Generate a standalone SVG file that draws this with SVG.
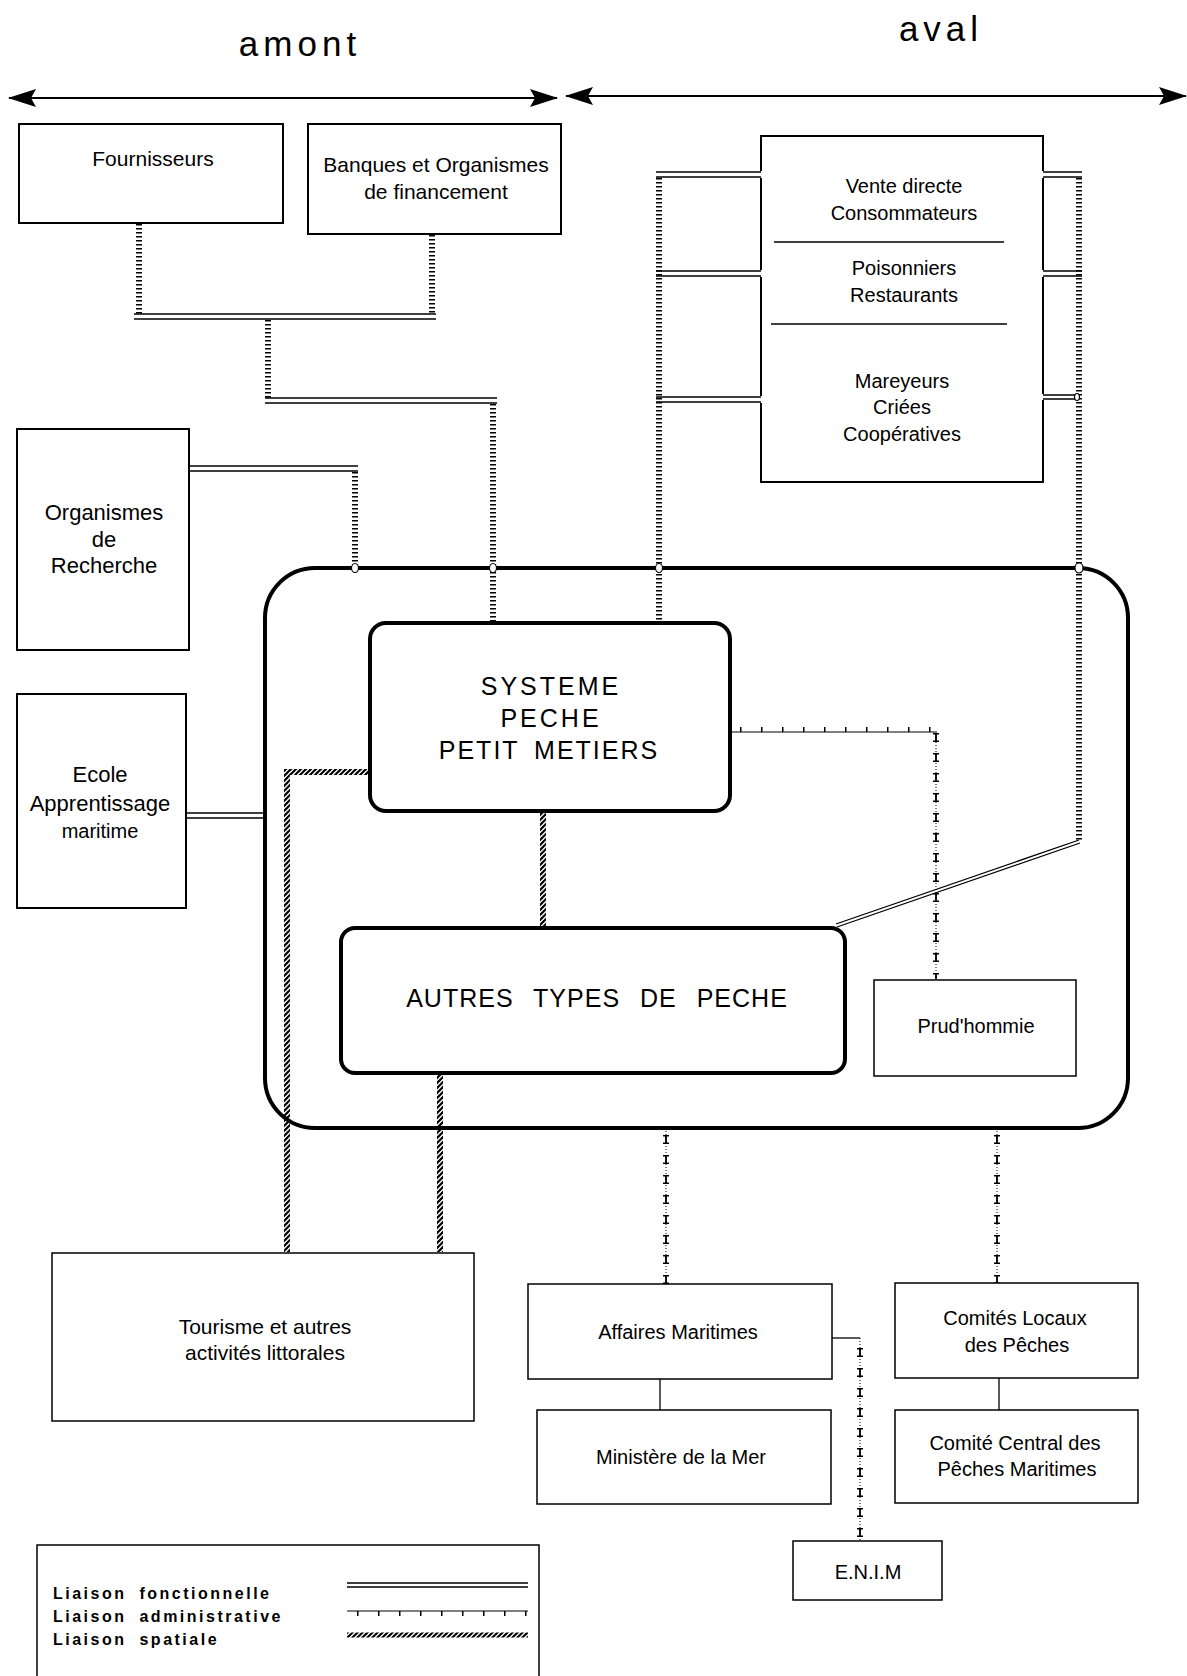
<svg xmlns="http://www.w3.org/2000/svg" width="1187" height="1676" viewBox="0 0 1187 1676">
<style>
.t{font-family:"Liberation Sans",Arial,sans-serif;font-size:21px;text-anchor:middle;fill:#000}
.s20{font-size:20px}
.s22{font-size:22px}
.ttl{font-size:35px;letter-spacing:5px}
.big{font-size:25px;letter-spacing:3px}
.lg{font-size:16px;font-weight:bold;letter-spacing:2.5px;word-spacing:6px;text-anchor:start}
.box{fill:#fff;stroke:#000;stroke-width:2}
.boxs{fill:#fff;stroke:#000;stroke-width:1.5}
.thick{fill:none;stroke:#000;stroke-width:4}
.edge{fill:none;stroke:#000;stroke-width:2}
.fn{fill:none;stroke:#000;stroke-width:1.3}
.lad{fill:none;stroke:#000;stroke-width:6;stroke-dasharray:1.6 2.4}
.sp{fill:none;stroke:url(#rope);stroke-width:6}
.ad{fill:none;stroke:#000;stroke-width:1}
.adt{fill:none;stroke:#000;stroke-width:5;stroke-dasharray:1.5 19.5}
.adv{fill:none;stroke:#000;stroke-width:1;stroke-dasharray:1 2}
.ads{fill:none;stroke:#000;stroke-width:1.8;stroke-dasharray:9 11}
.adc{fill:none;stroke:#000;stroke-width:6;stroke-dasharray:1.5 6 1.5 11}
.pl{fill:none;stroke:#000;stroke-width:1.3}
.ax{fill:none;stroke:#000;stroke-width:2}
.knot{fill:#fff;stroke:#000;stroke-width:1.2}
</style>
<defs>
<marker id="ah" viewBox="0 0 28 18" markerWidth="28" markerHeight="18" refX="27" refY="9" markerUnits="userSpaceOnUse" orient="auto-start-reverse">
<path d="M0,0 L28,9 L0,18 L5,9 z" fill="#000"/>
</marker>
<pattern id="rope" patternUnits="userSpaceOnUse" width="5" height="5">
<path d="M-1,6 L6,-1 M-1,1 L1,-1 M4,6 L6,4" stroke="#000" stroke-width="2.2"/>
</pattern>
</defs>
<rect width="1187" height="1676" fill="#fff"/>

<g id="titles">
<text class="t ttl" x="300" y="56">amont</text>
<text class="t ttl" x="941" y="41">aval</text>
<line class="ax" x1="9" y1="98" x2="557" y2="98" marker-start="url(#ah)" marker-end="url(#ah)"/>
<line class="ax" x1="566" y1="96" x2="1186" y2="96" marker-start="url(#ah)" marker-end="url(#ah)"/>
</g>

<g id="systeme-global">
<rect class="thick" x="265" y="568" width="863" height="560" rx="50"/>
</g>

<g id="connectors">
<path class="lad" d="M139,224 V314"/>
<path class="lad" d="M432,235 V314"/>
<path class="fn" d="M134,314 H436 M134,319 H436"/>
<path class="lad" d="M268,320 V398"/>
<path class="fn" d="M265,398 H497 M265,403 H497"/>
<path class="lad" d="M493,404 V622"/>
<path class="fn" d="M189,466 H358 M189,471 H358"/>
<path class="lad" d="M355,472 V568"/>
<path class="fn" d="M186,813 H265 M186,818 H265"/>
<path class="lad" d="M659,178 V622"/>
<path class="fn" d="M656,172 H761 M656,177 H761"/>
<path class="fn" d="M656,271 H761 M656,276 H761"/>
<path class="fn" d="M656,397 H761 M656,402 H761"/>
<path class="lad" d="M1079,178 V841"/>
<path class="fn" d="M1043,172 H1082 M1043,177 H1082"/>
<path class="fn" d="M1043,271 H1082 M1043,276 H1082"/>
<path class="fn" d="M1043,395 H1077 M1043,399 H1077"/>
<path class="fn" d="M1079,840 L836,924 M1080,843 L837,927"/>
<ellipse class="knot" cx="355" cy="568" rx="3.5" ry="4.5"/>
<ellipse class="knot" cx="493" cy="568" rx="3.5" ry="4.5"/>
<ellipse class="knot" cx="659" cy="568" rx="3.5" ry="4.5"/>
<ellipse class="knot" cx="1079" cy="568" rx="4" ry="5"/>
<ellipse class="knot" cx="1077" cy="397" rx="2.5" ry="3.5"/>
<path class="sp" d="M369,772 H287 V1252"/>
<path class="sp" d="M543,813 V927"/>
<path class="sp" d="M440,1074 V1252"/>
<path class="ad" d="M731,732 H937"/>
<path class="adt" d="M740,729.5 H937"/>
<path class="adv" d="M936,733 V979"/>
<path class="ads" d="M936,733 V979"/>
<path class="adc" d="M936,733 V979"/>
<path class="adv" d="M666,1131 V1284"/>
<path class="ads" d="M666,1135 V1284"/>
<path class="adc" d="M666,1135 V1284"/>
<path class="adv" d="M997,1131 V1283"/>
<path class="ads" d="M997,1135 V1283"/>
<path class="adc" d="M997,1135 V1283"/>
<path class="pl" d="M832,1338 H860"/>
<path class="adv" d="M860,1338 V1541"/>
<path class="ads" d="M860,1348 V1541"/>
<path class="adc" d="M860,1348 V1541"/>
<path class="pl" d="M660,1379 V1410"/>
<path class="pl" d="M999,1378 V1410"/>
</g>

<g id="fournisseurs">
<rect class="box" x="19" y="124" width="264" height="99"/>
<text class="t" x="153" y="166">Fournisseurs</text>
</g>
<g id="banques">
<rect class="box" x="308" y="124" width="253" height="110"/>
<text class="t" x="436" y="172">Banques et Organismes</text>
<text class="t" x="436" y="199">de financement</text>
</g>
<g id="organismes-recherche">
<rect class="box" x="17" y="429" width="172" height="221"/>
<text class="t s22" x="104" y="520">Organismes</text>
<text class="t s22" x="104" y="547">de</text>
<text class="t s22" x="104" y="573">Recherche</text>
</g>
<g id="ecole">
<rect class="box" x="17" y="694" width="169" height="214"/>
<text class="t s22" x="100" y="782">Ecole</text>
<text class="t s22" x="100" y="811">Apprentissage</text>
<text class="t s20" x="100" y="838">maritime</text>
</g>
<g id="aval-box">
<path class="edge" d="M761,171 V136 H1043 V171 M1043,178 V270 M1043,277 V394 M1043,400 V482 H761 V403 M761,396 V277 M761,270 V178"/>
<path class="pl" d="M774,242 H1004 M771,324 H1007"/>
<text class="t s20" x="904" y="193">Vente directe</text>
<text class="t s20" x="904" y="220">Consommateurs</text>
<text class="t s20" x="904" y="275">Poisonniers</text>
<text class="t s20" x="904" y="302">Restaurants</text>
<text class="t s20" x="902" y="388">Mareyeurs</text>
<text class="t s20" x="902" y="414">Criées</text>
<text class="t s20" x="902" y="441">Coopératives</text>
</g>
<g id="systeme-peche">
<rect class="thick" x="370" y="623" width="360" height="188" rx="16" fill="#fff"/>
<text class="t big" x="551" y="695">SYSTEME</text>
<text class="t big" x="551" y="727">PECHE</text>
<text class="t big" x="549" y="759" style="letter-spacing:2px;word-spacing:6px">PETIT METIERS</text>
</g>
<g id="autres-types">
<rect class="thick" x="341" y="928" width="504" height="145" rx="14" fill="#fff"/>
<text class="t big" x="597" y="1007" style="letter-spacing:1px;word-spacing:12px">AUTRES TYPES DE PECHE</text>
</g>
<g id="prudhommie">
<rect class="boxs" x="874" y="980" width="202" height="96"/>
<text class="t s20" x="976" y="1033">Prud'hommie</text>
</g>
<g id="tourisme">
<rect class="boxs" x="52" y="1253" width="422" height="168"/>
<text class="t" x="265" y="1334">Tourisme et autres</text>
<text class="t" x="265" y="1360">activités littorales</text>
</g>
<g id="affaires-maritimes">
<rect class="boxs" x="528" y="1284" width="304" height="95"/>
<text class="t s20" x="678" y="1339">Affaires Maritimes</text>
</g>
<g id="ministere">
<rect class="boxs" x="537" y="1410" width="294" height="94"/>
<text class="t s20" x="681" y="1464">Ministère de la Mer</text>
</g>
<g id="comites-locaux">
<rect class="boxs" x="895" y="1283" width="243" height="95"/>
<text class="t s20" x="1015" y="1325">Comités Locaux</text>
<text class="t s20" x="1017" y="1352">des Pêches</text>
</g>
<g id="comite-central">
<rect class="boxs" x="895" y="1410" width="243" height="93"/>
<text class="t s20" x="1015" y="1450">Comité Central des</text>
<text class="t s20" x="1017" y="1476">Pêches Maritimes</text>
</g>
<g id="enim">
<rect class="boxs" x="793" y="1541" width="149" height="59"/>
<text class="t s20" x="868" y="1579">E.N.I.M</text>
</g>

<g id="legend">
<rect class="boxs" x="37" y="1545" width="502" height="200"/>
<text class="t lg" x="53" y="1599">Liaison fonctionnelle</text>
<text class="t lg" x="53" y="1622">Liaison administrative</text>
<text class="t lg" x="53" y="1645">Liaison spatiale</text>
<path class="fn" d="M347,1583 H528 M347,1587 H528"/>
<path class="ad" d="M347,1611 H528"/>
<path class="adt" d="M357,1613.5 H528"/>
<path class="sp" d="M347,1635 H528" style="stroke-width:5"/>
</g>
</svg>
